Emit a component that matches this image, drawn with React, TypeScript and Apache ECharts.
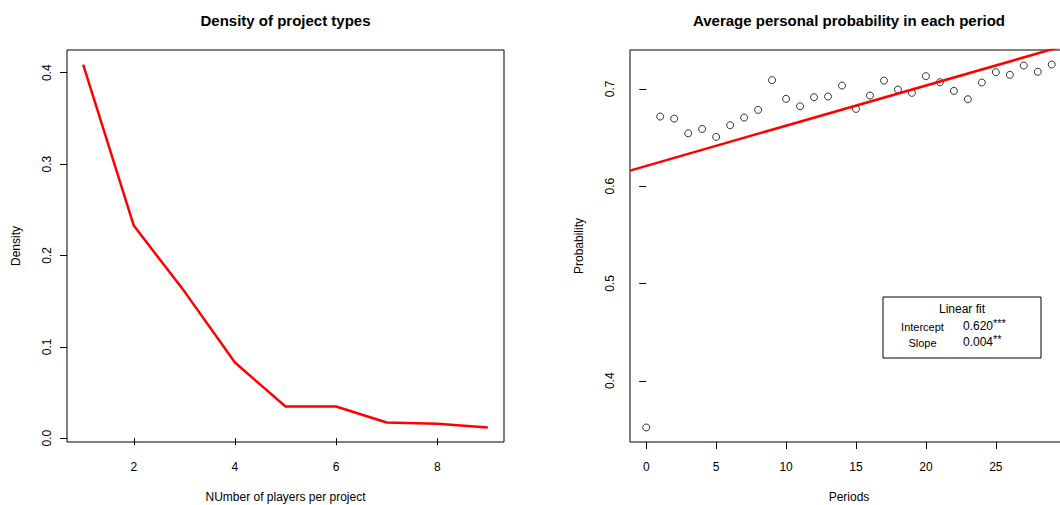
import React, { useEffect, useRef } from "react";
import * as echarts from "echarts";

const densityTitle = "Density of project types";
const probTitle = "Average personal probability in each period";
const playersPerProject = [1, 2, 3, 4, 5, 6, 7, 8, 9];
const densityValues = [0.409, 0.2327, 0.1607, 0.0829, 0.0347, 0.0347, 0.0171, 0.0157, 0.0117];
const densityXTicks = [2, 4, 6, 8];
const densityYTicks = [0, 0.1, 0.2, 0.3, 0.4];

const periods = [0, 1, 2, 3, 4, 5, 6, 7, 8, 9, 10, 11, 12, 13, 14, 15, 16, 17, 18, 19, 20, 21, 22, 23, 24, 25, 26, 27, 28, 29];
const probability = [
  0.352, 0.6715, 0.6694, 0.6543, 0.6588, 0.6506, 0.6626, 0.6705, 0.6784, 0.7089,
  0.6897, 0.6821, 0.6914, 0.6921, 0.7034, 0.6794, 0.6931, 0.7085, 0.6993, 0.6959,
  0.713, 0.7068, 0.6979, 0.6893, 0.7065, 0.7171, 0.7144, 0.724, 0.7175, 0.725,
];
const periodTicks = [0, 5, 10, 15, 20, 25];
const probTicks = [0.4, 0.5, 0.6, 0.7];
const fitIntercept = 0.6208;
const fitSlope = 0.00413;
const fitLabels = { title: "Linear fit", rows: [["Intercept", "0.620", "***"], ["Slope", "0.004", "**"]] };

const FONT = "'Liberation Sans', Arial, Helvetica, sans-serif";

function padRange(vals: number[]) {
  const mn = Math.min(...vals);
  const mx = Math.max(...vals);
  const p = (mx - mn) * 0.04;
  return [mn - p, mx + p];
}

export default function App() {
  const ref = useRef<HTMLDivElement>(null);
  useEffect(() => {
    if (!ref.current) return;
    const chart = echarts.init(ref.current, null, { renderer: "svg" });
    const [dx0, dx1] = padRange(playersPerProject);
    const [dy0, dy1] = padRange(densityValues);
    const [px0, px1] = padRange(periods);
    const [py0, py1] = padRange(probability);

    const axisCommon = (ticks: number[], fmt: (v: number) => string) => ({
      type: "value",
      splitLine: { show: false },
      axisLine: { show: false },
      axisTick: { show: true, length: 7, customValues: ticks, lineStyle: { color: "#000", width: 1 } },
      axisLabel: { customValues: ticks, color: "#000", fontSize: 12, fontFamily: FONT, formatter: fmt },
      nameLocation: "middle",
      nameTextStyle: { color: "#000", fontSize: 12, fontFamily: FONT },
    });

    const xa = (grid: number, ticks: number[], mn: number, mx: number, name: string) => {
      const a: any = axisCommon(ticks, (v) => String(v));
      a.gridIndex = grid; a.min = mn; a.max = mx; a.name = name; a.nameGap = 49;
      a.axisLabel.margin = 19;
      return a;
    };
    const ya = (grid: number, ticks: number[], mn: number, mx: number, name: string) => {
      const a: any = axisCommon(ticks, (v) => v.toFixed(1));
      a.gridIndex = grid; a.min = mn; a.max = mx; a.name = name; a.nameGap = 45;
      a.axisLabel.rotate = 90; a.axisLabel.margin = 14;
      return a;
    };

    const legX = 883, legY = 297, legW = 158, legH = 61;
    const graphics: any[] = [
      { type: "text", x: 285.5, y: 20, style: { text: densityTitle, font: `bold 15px ${FONT}`, fill: "#000", textAlign: "center", textVerticalAlign: "middle" } },
      { type: "text", x: 849, y: 20, style: { text: probTitle, font: `bold 15px ${FONT}`, fill: "#000", textAlign: "center", textVerticalAlign: "middle" } },
      { type: "rect", shape: { x: legX, y: legY, width: legW, height: legH }, style: { fill: "#fff", stroke: "#000", lineWidth: 1 }, z: 10 },
      { type: "text", x: legX + 79, y: legY + 12, z: 11, style: { text: fitLabels.title, font: `12px ${FONT}`, fill: "#000", textAlign: "center", textVerticalAlign: "middle" } },
    ];
    fitLabels.rows.forEach((r, i) => {
      const cy = legY + 30 + i * 15.5;
      graphics.push({ type: "text", x: legX + 39.5, y: cy, z: 11, style: { text: r[0], font: `11px ${FONT}`, fill: "#000", textAlign: "center", textVerticalAlign: "middle" } });
      graphics.push({ type: "text", x: legX + 80, y: cy - 1, z: 11, style: { text: r[1], font: `12px ${FONT}`, fill: "#000", textAlign: "left", textVerticalAlign: "middle" } });
      graphics.push({ type: "text", x: legX + 110, y: cy - 4, z: 11, style: { text: r[2], font: `11px ${FONT}`, fill: "#000", textAlign: "left", textVerticalAlign: "middle" } });
    });

    chart.setOption({
      animation: false,
      textStyle: { fontFamily: FONT },
      grid: [
        { left: 67, top: 50, width: 437, height: 392, outerBoundsMode: "none", containLabel: false, show: true, borderColor: "#000", borderWidth: 1, backgroundColor: "transparent" },
        { left: 630, top: 50, width: 438, height: 392, outerBoundsMode: "none", containLabel: false, show: true, borderColor: "#000", borderWidth: 1, backgroundColor: "transparent" },
      ],
      xAxis: [
        xa(0, densityXTicks, dx0, dx1, "NUmber of players per project"),
        xa(1, periodTicks, px0, px1, "Periods"),
      ],
      yAxis: [
        ya(0, densityYTicks, dy0, dy1, "Density"),
        ya(1, probTicks, py0, py1, "Probability"),
      ],
      series: [
        {
          type: "line", xAxisIndex: 0, yAxisIndex: 0,
          data: playersPerProject.map((x, i) => [x, densityValues[i]]),
          showSymbol: false, symbol: "none",
          lineStyle: { color: "#ff0000", width: 2.5 },
        },
        {
          type: "scatter", xAxisIndex: 1, yAxisIndex: 1,
          data: periods.map((x, i) => [x, probability[i]]),
          symbol: "circle", symbolSize: 7,
          itemStyle: { color: "#fff", borderColor: "#000", borderWidth: 1 },
        },
        {
          type: "line", xAxisIndex: 1, yAxisIndex: 1,
          data: [px0, px1].map((x) => [x, fitIntercept + fitSlope * x]),
          showSymbol: false, symbol: "none",
          lineStyle: { color: "#ff0000", width: 2.5 },
        },
      ],
      graphic: graphics,
    });
    return () => chart.dispose();
  }, []);
  return (
    <div style={{ position: "fixed", left: 0, top: 0, width: 1060, height: 505, overflow: "hidden", background: "#fff" }}>
      <div ref={ref} style={{ width: 1080, height: 505 }} />
    </div>
  );
}
